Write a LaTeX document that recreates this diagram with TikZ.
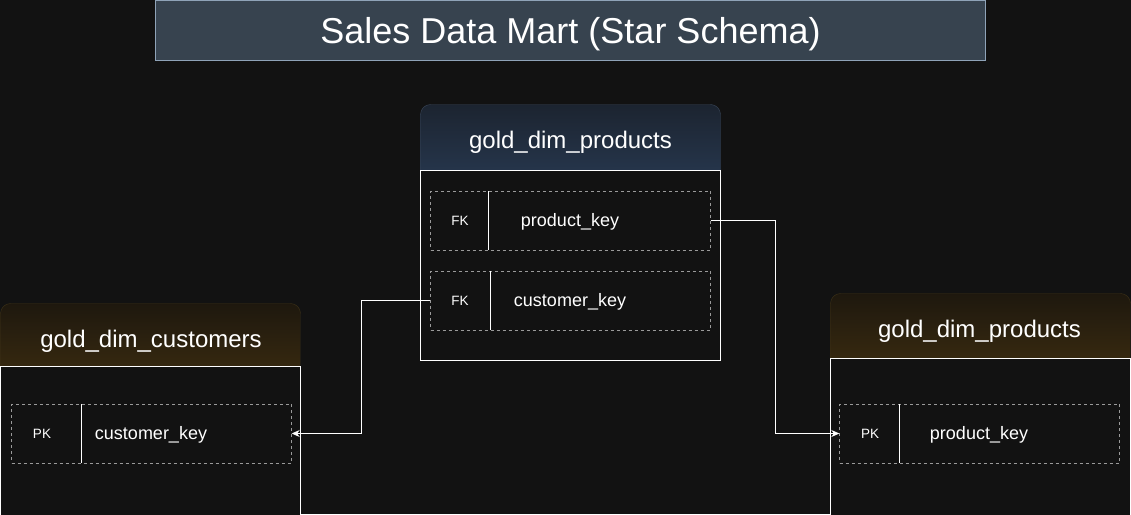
\documentclass[tikz,border=0pt]{standalone}
\usepackage{fontspec}
\setmainfont{Liberation Sans}
\usetikzlibrary{positioning,arrows.meta}
\definecolor{canvas}{HTML}{121212}
\definecolor{titlefill}{HTML}{37434F}
\definecolor{titleedge}{HTML}{8FA3B8}
\definecolor{navytop}{HTML}{1C2430}
\definecolor{navybot}{HTML}{273850}
\definecolor{navyedge}{HTML}{3A475A}
\definecolor{browntop}{HTML}{1E180E}
\definecolor{brownbot}{HTML}{3A2B10}
\definecolor{brownedge}{HTML}{3E3218}
\definecolor{dashgray}{HTML}{9A9A9A}
\begin{document}
\begin{tikzpicture}[x=1pt,y=-1pt,
    headtext/.style={text=white, font=\fontsize{24}{28}\selectfont},
    fieldrow/.style={draw=dashgray, dash pattern=on 3pt off 3pt, minimum width=280pt, minimum height=59pt, inner sep=0pt},
    keytag/.style={text=white, font=\fontsize{13.5}{16}\selectfont},
    fieldname/.style={text=white, font=\fontsize{18}{21}\selectfont},
    link/.style={white, line width=0.9pt, -{Stealth[length=8pt,width=7pt]}}]
  \useasboundingbox (0,0) rectangle (1131,514);
  \clip (0,0) rectangle (1131,514);
  \fill[canvas] (0,0) rectangle (1131,514);
  % title banner
  \draw[fill=titlefill, draw=titleedge] (155.5,0.5) rectangle (985.5,60.5);
  \node[text=white, font=\fontsize{36}{40}\selectfont] (title) at (570.5,34) {Sales Data Mart (Star Schema)};
  % centre table
  \draw[rounded corners=10pt, top color=navytop, bottom color=navybot, draw=navyedge] (420.5,104.5) rectangle (720.5,185);
  \draw[white, fill=canvas] (420.5,170.5) rectangle (720.5,360.5);
  \node[headtext] (facthead) at (570.5,142) {gold\_dim\_products};
  \node[fieldrow] (prodfk) at (570.5,220.5) {};
  \node[keytag] at (460,220.5) {FK};
  \draw[white] (488.5,191) -- (488.5,250);
  \node[fieldname] at (570,221.5) {product\_key};
  \node[fieldrow] (custfk) at (570.5,300.5) {};
  \node[keytag] at (460,300.5) {FK};
  \draw[white] (490.5,271) -- (490.5,330);
  \node[fieldname] at (570,301.5) {customer\_key};
  % customers table
  \draw[rounded corners=10pt, top color=browntop, bottom color=brownbot, draw=brownedge] (0.5,303.5) rectangle (300.5,380);
  \draw[white, fill=canvas] (0.5,366.5) rectangle (300.5,530);
  \node[headtext] (custhead) at (151,341.5) {gold\_dim\_customers};
  \node[fieldrow] (custpk) at (151.5,433.5) {};
  \node[keytag] at (42,433.5) {PK};
  \draw[white] (81.5,404) -- (81.5,463);
  \node[fieldname] at (151,434.5) {customer\_key};
  % products table
  \draw[rounded corners=10pt, top color=browntop, bottom color=brownbot, draw=brownedge] (830.5,293.5) rectangle (1130.5,370);
  \draw[white, fill=canvas] (830.5,358.5) rectangle (1130.5,530);
  \node[headtext] (prodhead) at (979.5,331.5) {gold\_dim\_products};
  \node[fieldrow] (prodpk) at (979.5,433.5) {};
  \node[keytag] at (870,433.5) {PK};
  \draw[white] (899.5,404) -- (899.5,463);
  \node[fieldname] at (979,434.5) {product\_key};
  % relationships
  \draw[link] (prodfk.east) -- ++(65,0) |- (prodpk.west);
  \draw[link] (custfk.west) -- ++(-69,0) |- (custpk.east);
\end{tikzpicture}
\end{document}
